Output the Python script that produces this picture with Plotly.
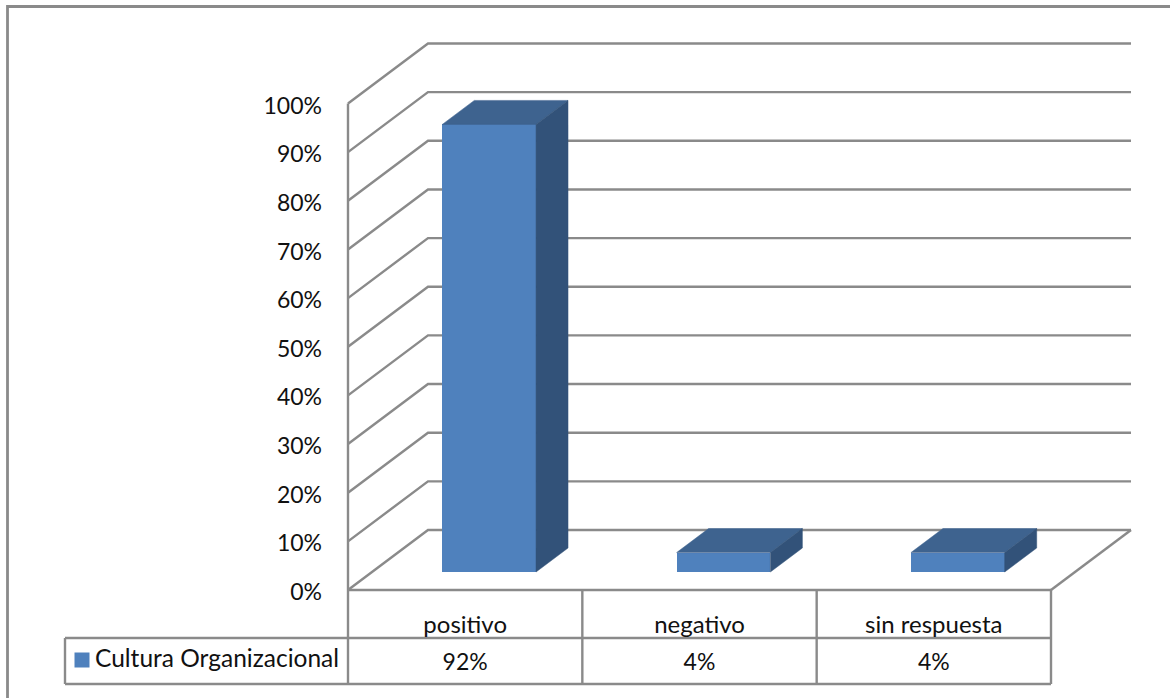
import plotly.graph_objects as go

# Chart data
categories = ["positivo", "negativo", "sin respuesta"]
values = [0.92, 0.04, 0.04]
series_name = "Cultura Organizacional"
y_ticks = [0.0, 0.1, 0.2, 0.3, 0.4, 0.5, 0.6, 0.7, 0.8, 0.9, 1.0]
y_tick_labels = ["0%", "10%", "20%", "30%", "40%", "50%", "60%", "70%", "80%", "90%", "100%"]

# Canvas and plot frame, in pixels
WIDTH, HEIGHT = 1170, 698
LEFT, RIGHT, TOP, BOTTOM = 348, 1051, 103.5, 590
CAT_PX = (RIGHT - LEFT) / len(categories)
UNIT_PX = BOTTOM - TOP

# Oblique projection: the back wall sits up and to the right of the front plane
DEPTH_X = 80 / CAT_PX
DEPTH_Y = 60 / UNIT_PX
BAR_NEAR, BAR_FAR = 0.3, 0.7
BAR_WIDTH = 0.4

GRID = "#8A8A8A"
FRONT, TOPFACE, SIDE = "#4F81BD", "#3E638F", "#325279"
FONT = dict(family="Lato, Carlito, sans-serif", size=23, color="#111111")
CATEGORY_FONT = dict(family="Lato, Carlito, sans-serif", size=24, color="#111111")
KEY_FONT = dict(family="Lato, Carlito, sans-serif", size=24.5, color="#111111")


def project(x, y, depth):
    return x + depth * DEPTH_X, y + depth * DEPTH_Y


def px_x(px):
    return (px - LEFT) / CAT_PX


def px_y(px):
    return (BOTTOM - px) / UNIT_PX


def face(points, color):
    pts = points + points[:1]
    return go.Scatter(
        x=[p[0] for p in pts], y=[p[1] for p in pts], mode="lines", fill="toself",
        fillcolor=color, line=dict(color=color, width=0.5), hoverinfo="skip",
        showlegend=False,
    )


fig = go.Figure()
n = len(categories)


def rule(points, width=2.4):
    # Structural lines sit underneath every trace, so blocks hide them
    path = "M" + " L".join(f"{x},{y}" for x, y in points)
    fig.add_shape(type="path", path=path, xref="x", yref="y", layer="below",
                  line=dict(color=GRID, width=width))


# Wall gridlines: a diagonal on the side wall, then a run along the back wall
for v in y_ticks:
    rule([project(0, v, 0), project(0, v, 1), project(n, v, 1)])

# Left edge of the side wall and right edge of the floor
rule([(0, 0), (0, 1)])
rule([project(n, 0, 0), project(n, 0, 1)])

# Data table under the plot
row_top = px_y(638)
row_bottom = px_y(684)
table_left = px_x(65)
rule([(table_left, row_top), (n, row_top)])
rule([(table_left, row_bottom), (n, row_bottom)])
rule([(table_left, row_top), (table_left, row_bottom)])
rule([(0, 0), (n, 0)])
for i in range(n + 1):
    rule([(i, 0), (i, row_bottom)])

# Outer chart border: only the left and top edges fall inside the canvas
rule([(px_x(7.5), px_y(HEIGHT)), (px_x(7.5), px_y(6.5)), (px_x(WIDTH), px_y(6.5))], width=2.8)

# Front faces
fig.add_trace(go.Bar(
    x=[project(i + 0.5, 0, BAR_NEAR)[0] for i in range(n)],
    y=values,
    base=BAR_NEAR * DEPTH_Y,
    width=BAR_WIDTH,
    marker=dict(color=FRONT, line=dict(width=0)),
    name=series_name,
    showlegend=False,
))

# Top and side faces of each block
for i, v in enumerate(values):
    x0, x1 = i + 0.5 - BAR_WIDTH / 2, i + 0.5 + BAR_WIDTH / 2
    fig.add_trace(face([project(x0, v, BAR_NEAR), project(x1, v, BAR_NEAR),
                        project(x1, v, BAR_FAR), project(x0, v, BAR_FAR)], TOPFACE))
    fig.add_trace(face([project(x1, 0, BAR_NEAR), project(x1, 0, BAR_FAR),
                        project(x1, v, BAR_FAR), project(x1, v, BAR_NEAR)], SIDE))

# Table row: series key and the value of each category
text_mid = px_y(664)
fig.add_trace(go.Scatter(
    x=[i + 0.5 for i in range(n)], y=[text_mid] * n,
    text=[f"{v:.0%}" for v in values],
    mode="text", textposition="middle center", textfont=FONT,
    hoverinfo="skip", showlegend=False,
))
fig.add_trace(go.Scatter(
    x=[px_x(82)], y=[px_y(660)],
    mode="markers",
    marker=dict(symbol="square", size=15, color=FRONT, line=dict(width=0)),
    hoverinfo="skip", showlegend=False,
))
fig.add_trace(go.Scatter(
    x=[px_x(95)], y=[px_y(661)],
    text=[series_name],
    mode="text", textposition="middle right", textfont=KEY_FONT,
    hoverinfo="skip", showlegend=False,
))

fig.update_layout(
    width=WIDTH, height=HEIGHT,
    margin=dict(l=0, r=0, t=0, b=0, pad=0),
    paper_bgcolor="white", plot_bgcolor="rgba(0,0,0,0)",
    font=FONT, bargap=0, showlegend=False,
    xaxis=dict(
        range=[px_x(0), px_x(WIDTH)], domain=[0, 1], anchor="free",
        position=(HEIGHT - BOTTOM) / HEIGHT,
        tickmode="array", tickvals=[i + 0.5 for i in range(n)],
        ticktext=categories, showgrid=False, zeroline=False, showline=False,
        ticks="", ticklabelstandoff=18, tickfont=CATEGORY_FONT, fixedrange=True,
    ),
    yaxis=dict(
        range=[px_y(HEIGHT), px_y(0)], domain=[0, 1], anchor="free",
        position=LEFT / WIDTH,
        tickmode="array", tickvals=y_ticks, ticktext=y_tick_labels,
        showgrid=False, zeroline=False, showline=False,
        ticks="", ticklabelstandoff=26, ticklabelshift=2,
        tickfont=FONT, fixedrange=True,
    ),
)

fig.write_html("out.html", config=dict(displayModeBar=False))
